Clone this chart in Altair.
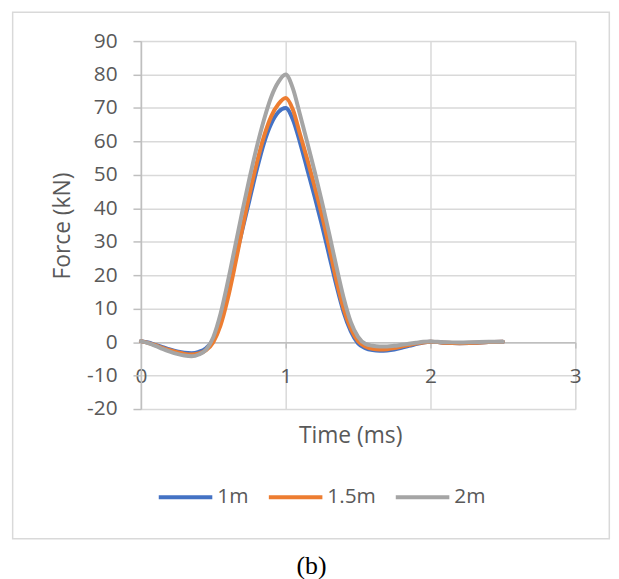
import altair as alt
import pandas as pd

# ---- data ----
time_ms = [0.00, 0.05, 0.10, 0.15, 0.20, 0.25, 0.30, 0.35, 0.40, 0.45,
           0.50, 0.55, 0.60, 0.65, 0.70, 0.75, 0.80, 0.85, 0.90, 0.95,
           1.00, 1.05, 1.10, 1.15, 1.20, 1.25, 1.30, 1.35, 1.40, 1.45,
           1.50, 1.55, 1.60, 1.65, 1.70, 1.75, 1.80, 1.85, 1.90, 1.95,
           2.00, 2.05, 2.10, 2.20, 2.30, 2.40, 2.50]

force_1m = [0.3, -0.1, -0.8, -1.5, -2.2, -2.8, -3.2, -3.3, -2.9, -1.8,
            0.8, 6.5, 15.0, 24.5, 33.5, 42.5, 51.5, 59.5, 65.3, 68.8,
            70.0, 66.5, 59.5, 51.5, 43.5, 35.0, 26.0, 17.0, 9.0, 3.2,
            -0.4, -1.8, -2.4, -2.6, -2.5, -2.2, -1.7, -1.1, -0.6, -0.1,
            0.1, 0.0, -0.2, -0.3, -0.2, 0.0, 0.1]

force_1_5m = [0.3, -0.2, -0.9, -1.7, -2.4, -3.0, -3.5, -3.7, -3.4, -2.4,
              0.0, 5.0, 13.0, 23.0, 33.8, 44.2, 53.5, 61.5, 67.5, 71.2,
              73.0, 69.5, 62.0, 54.5, 46.5, 38.0, 28.5, 18.5, 10.0, 4.0,
              0.3, -1.3, -2.0, -2.2, -2.1, -1.8, -1.3, -0.9, -0.4, -0.1,
              0.1, 0.0, -0.2, -0.3, -0.2, 0.0, 0.1]

force_2m = [0.3, -0.3, -1.1, -2.0, -2.8, -3.5, -4.0, -4.2, -3.7, -2.3,
            1.5, 8.5, 18.0, 28.5, 39.0, 49.0, 58.3, 66.5, 73.3, 77.8,
            80.0, 75.8, 67.8, 59.5, 51.0, 42.0, 32.5, 22.6, 13.3, 6.0,
            1.6, -0.5, -1.1, -1.3, -1.3, -1.1, -0.8, -0.5, -0.2, 0.1,
            0.2, 0.1, 0.0, -0.1, 0.0, 0.1, 0.1]

series_names = ["1m", "1.5m", "2m"]
series_colors = ["#4472C4", "#ED7D31", "#A5A5A5"]
x_ticks = [0, 1, 2, 3]
y_ticks = list(range(-20, 91, 10))

rows = []
for name, vals in zip(series_names, [force_1m, force_1_5m, force_2m]):
    for t, v in zip(time_ms, vals):
        rows.append({"Time": t, "Force": v, "Series": name})
df = pd.DataFrame(rows)

FONT = "Open Sans"
TXT = "#595959"
W, H = 438, 371

lines = alt.Chart(df).mark_line(
    strokeWidth=4, interpolate="monotone", strokeCap="round", strokeJoin="round"
).encode(
    x=alt.X("Time:Q",
            scale=alt.Scale(domain=[0, 3], nice=False),
            axis=alt.Axis(values=x_ticks, grid=True, gridColor="#d9d9d9", gridWidth=1.5,
                          domainColor="#bfbfbf", domainWidth=1.5,
                          tickColor="#bfbfbf", tickSize=6, tickWidth=1.5,
                          offset=-(20 / 110) * H, labelPadding=18,
                          labelExpr="'' + datum.value",
                          labelFont=FONT, labelFontSize=21, labelColor=TXT,
                          labelFlush=False, labelOverlap=False, labelBound=False,
                          title="Time (ms)", titleFont=FONT, titleFontSize=23,
                          titleFontWeight="normal", titleColor=TXT,
                          titleX=211, titleY=101, titleAlign="center",
                          titleBaseline="alphabetic")),
    y=alt.Y("Force:Q",
            scale=alt.Scale(domain=[-20, 90], nice=False),
            axis=alt.Axis(values=y_ticks, grid=True, gridColor="#d9d9d9", gridWidth=1.5,
                          domainColor="#bfbfbf", domainWidth=1.5,
                          tickColor="#bfbfbf", tickSize=8, tickWidth=1.5,
                          labelPadding=16, labelFont=FONT, labelFontSize=21,
                          labelExpr="'' + datum.value",
                          labelColor=TXT, labelOverlap=False, labelBound=False,
                          labelFlush=False,
                          title="Force (kN)", titleFont=FONT, titleFontSize=23,
                          titleFontWeight="normal", titleColor=TXT,
                          titleX=-78.5, titleY=186, titleAlign="center",
                          titleBaseline="middle")),
    color=alt.Color("Series:N",
                    scale=alt.Scale(domain=series_names, range=series_colors),
                    legend=alt.Legend(orient="none", legendX=16, legendY=431,
                                      direction="horizontal", title=None,
                                      symbolType="stroke", symbolSize=2916,
                                      symbolStrokeWidth=4, labelFont=FONT,
                                      labelFontSize=21, labelColor=TXT,
                                      columnPadding=12, labelOffset=3, padding=0)),
    detail="Series:N",
)

one = pd.DataFrame({"a": [0]})

frame = alt.Chart(one).mark_rect(fill="transparent", stroke="#d9d9d9",
                                 strokeWidth=1.5, clip=False).encode(
    x=alt.value(-129.3), x2=alt.value(472.3),
    y=alt.value(-29), y2=alt.value(501.7),
)

caption = alt.Chart(one).mark_text(text="(b)", font="Liberation Serif", fontSize=26,
                                   color="black", baseline="middle",
                                   align="center").encode(
    x=alt.value(172), y=alt.value(529),
)

chart = alt.layer(frame, lines, caption).properties(
    width=W, height=H,
    autosize=alt.AutoSizeParams(type="none"),
    padding={"left": 134, "top": 31, "right": 36, "bottom": 169},
).configure_view(stroke=None).configure(background="white")

chart.save("out.html", embed_options={"renderer": "svg", "actions": False})
